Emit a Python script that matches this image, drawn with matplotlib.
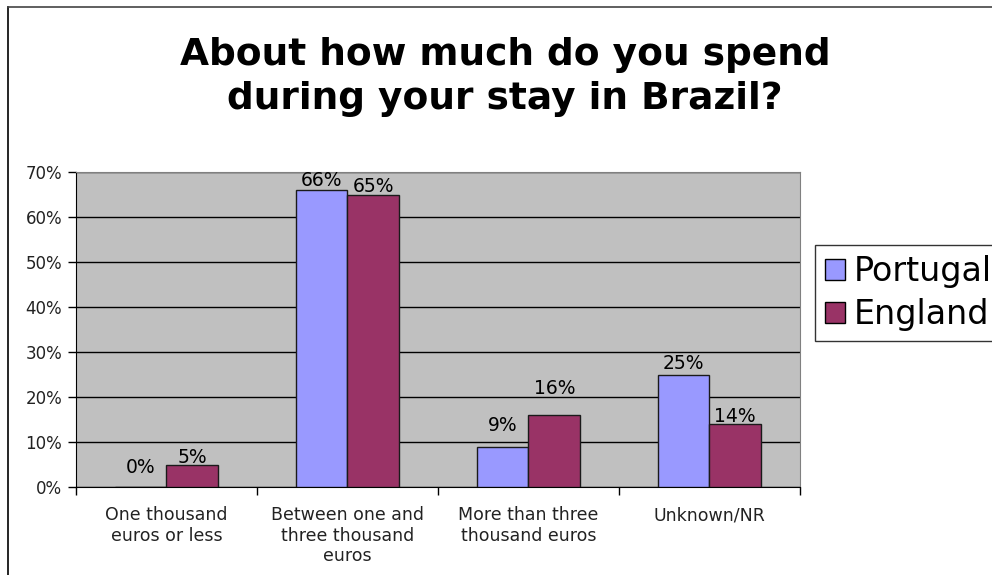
import matplotlib
matplotlib.use("Agg")
import matplotlib.pyplot as plt
import numpy as np
from matplotlib.lines import Line2D

plt.rcParams['font.family'] = ['DejaVu Sans']

categories = ["One thousand\neuros or less",
              "Between one and\nthree thousand\neuros",
              "More than three\nthousand euros",
              "Unknown/NR"]
portugal = [0, 66, 9, 25]
england = [5, 65, 16, 14]
series_names = ["Portugal", "England"]
yticks = [0, 10, 20, 30, 40, 50, 60, 70]

# label nudges (points) to keep the value labels clear of each other
pt_offsets = [7, 0, 8, 1]
en_offsets = [-1.5, -1, 12, -1.5]

fig = plt.figure(figsize=(9.92, 5.75), dpi=100)
ax = fig.add_axes([0.0766, 0.153, 0.7298, 0.5478])
ax.set_facecolor("#C0C0C0")

x = np.arange(len(categories))
w = 1 / 3.5
b1 = ax.bar(x - w / 2, portugal, w, color="#9999FF", edgecolor="#1a1a1a", linewidth=1, zorder=3)
b2 = ax.bar(x + w / 2, england, w, color="#993366", edgecolor="#1a1a1a", linewidth=1, zorder=3)

for rect, v, off in zip(b1, portugal, pt_offsets):
    ax.annotate(f"{v}%", (rect.get_x() + rect.get_width() / 2, v), xytext=(0, off),
                textcoords="offset points", ha="center", va="bottom", fontsize=13.5, zorder=4)
for rect, v, off in zip(b2, england, en_offsets):
    ax.annotate(f"{v}%", (rect.get_x() + rect.get_width() / 2, v), xytext=(0, off),
                textcoords="offset points", ha="center", va="bottom", fontsize=13.5, zorder=4)

ax.set_xlim(-0.5, len(categories) - 0.5)
ax.set_ylim(0, 70)
ax.set_yticks(yticks)
ax.set_yticklabels([f"{t}%" for t in yticks], fontsize=12, color="#222222")
ax.yaxis.grid(True, color="black", linewidth=1, zorder=1)
ax.set_axisbelow(True)

ax.set_xticks(x)
ax.set_xticklabels(categories, fontsize=12.5, color="#222222", linespacing=1.15)
ax.tick_params(axis="x", length=0, pad=14)
ax.set_xticks(np.arange(-0.5, len(categories)), minor=True)
ax.tick_params(axis="x", which="minor", length=6, width=1, color="black")
ax.tick_params(axis="y", length=6, width=1, color="black", pad=4)

for s in ["top", "right"]:
    ax.spines[s].set_color("#808080")
for s in ["left", "bottom"]:
    ax.spines[s].set_color("black")

fig.text(0.509, 0.887, "About how much do you spend",
         ha="center", va="baseline", fontsize=27, fontweight="bold")
fig.text(0.509, 0.810, "during your stay in Brazil?",
         ha="center", va="baseline", fontsize=27, fontweight="bold")

handles = [plt.Rectangle((0, 0), 1, 1, facecolor="#9999FF", edgecolor="black"),
           plt.Rectangle((0, 0), 1, 1, facecolor="#993366", edgecolor="black")]
leg = fig.legend(handles, series_names, loc="center left", bbox_to_anchor=(0.8216, 0.4904),
                 fontsize=24, frameon=True, fancybox=False, edgecolor="black",
                 handlelength=0.6, handleheight=0.6, handletextpad=0.25,
                 borderpad=0.3, labelspacing=0.3, borderaxespad=0)
leg.get_frame().set_linewidth(1)

# outer chart border (left and top edges)
fig.add_artist(Line2D([0.0085, 0.0085], [0, 0.988], color="black", linewidth=1.2, transform=fig.transFigure))
fig.add_artist(Line2D([0.0085, 1], [0.988, 0.988], color="#444444", linewidth=1.2, transform=fig.transFigure))

fig.savefig("out.png", dpi=100)
